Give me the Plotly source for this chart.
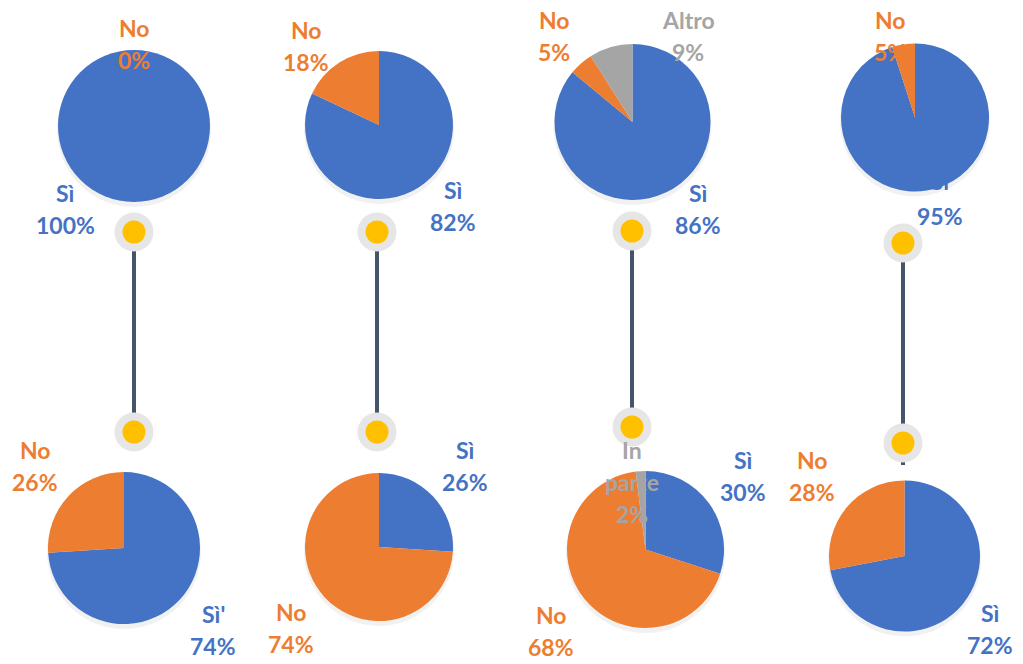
import plotly.graph_objects as go

W, H = 1023, 664

# ---- data ----
pie_labels = [
    ["Sì", "No"],
    ["Sì", "No"],
    ["Sì", "No", "Altro"],
    ["Sì", "No"],
    ["Sì'", "No"],
    ["Sì", "No"],
    ["Sì", "No", "In parte"],
    ["Sì", "No"],
]
pie_values = [
    [100, 0],
    [82, 18],
    [86, 5, 9],
    [95, 5],
    [74, 26],
    [26, 74],
    [30, 68, 2],
    [72, 28],
]
slice_colors = {"Sì": "#4472C4", "Sì'": "#4472C4", "No": "#ED7D31",
                "Altro": "#A5A5A5", "In parte": "#A5A5A5"}

# ---- layout (pixel positions) ----
pie_centers = [(134, 126), (379, 125), (632.5, 122), (915, 117.5),
               (124, 548), (379, 547), (645.5, 549.5), (904.5, 556)]
pie_radii = [76, 74, 78, 74, 76, 74, 78.5, 75.5]

# label anchor (name line centre) per slice, in px
label_pos = [
    [(65, 193), (134, 28)],
    [(453, 190), (306, 30)],
    [(698, 193), (554, 20), (688, 20)],
    [(940, 184), (890, 20)],
    [(213, 614), (35, 450)],
    [(465, 450), (291, 612)],
    [(743, 460), (551, 615), (632, 450)],
    [(990, 613), (812, 460)],
]
line_gap = 32

conn_x = [134, 377, 632, 903]
conn_top = [232, 232, 231, 243]
conn_bot = [432, 432, 427, 443]
conn_line_end = [432, 432, 427, 465]

fig = go.Figure()

# connectors
for x, t, b, e in zip(conn_x, conn_top, conn_bot, conn_line_end):
    fig.add_trace(go.Scatter(x=[x, x], y=[t, e], mode="lines",
                             line=dict(color="#44546A", width=4),
                             hoverinfo="skip", showlegend=False))
for x, t, b in zip(conn_x, conn_top, conn_bot):
    fig.add_trace(go.Scatter(x=[x, x], y=[t, b], mode="markers",
                             marker=dict(size=39, color="#E7E6E6", line=dict(width=0)),
                             hoverinfo="skip", showlegend=False))
    fig.add_trace(go.Scatter(x=[x, x], y=[t, b], mode="markers",
                             marker=dict(size=23, color="#FFC000", line=dict(width=0)),
                             hoverinfo="skip", showlegend=False))

# soft shadows
fig.add_trace(go.Scatter(x=[c[0] for c in pie_centers],
                         y=[c[1] + 4 for c in pie_centers], mode="markers",
                         marker=dict(size=[2 * r + 2 for r in pie_radii],
                                     color="rgba(0,0,0,0.08)", line=dict(width=0)),
                         hoverinfo="skip", showlegend=False))

FONT = "Lato"
FS = 23
annotations = []
for i, (labs, vals) in enumerate(zip(pie_labels, pie_values)):
    cx, cy = pie_centers[i]
    r = pie_radii[i]
    fig.add_trace(go.Pie(
        labels=labs, values=vals, sort=False, direction="clockwise",
        rotation=0, textinfo="none", hoverinfo="label+percent",
        marker=dict(colors=[slice_colors[l] for l in labs], line=dict(width=0)),
        domain=dict(x=[(cx - r) / W, (cx + r) / W],
                    y=[1 - (cy + r) / H, 1 - (cy - r) / H]),
        showlegend=False))
    for j, (lab, v) in enumerate(zip(labs, vals)):
        lx, ly = label_pos[i][j]
        col = slice_colors[lab]
        lines = lab.split(" ") if lab == "In parte" else [lab]
        lines = lines + [f"{v}%"]
        for k, txt in enumerate(lines):
            yk = ly + k * line_gap
            if i == 3 and j == 0 and k == 0:
                # partially hidden behind the pie
                fig.add_trace(go.Scatter(x=[lx], y=[yk], mode="text", text=[txt],
                                         textfont=dict(family=FONT, size=FS, color=col,
                                                       weight="bold"),
                                         hoverinfo="skip", showlegend=False))
                continue
            annotations.append(dict(x=lx, y=yk, xref="x", yref="y", text=f"<b>{txt}</b>",
                                    showarrow=False, font=dict(family=FONT, size=FS, color=col),
                                    xanchor="center", yanchor="middle", borderpad=0))

fig.update_layout(
    width=W, height=H, margin=dict(l=0, r=0, t=0, b=0),
    paper_bgcolor="white", plot_bgcolor="white",
    xaxis=dict(range=[0, W], visible=False, fixedrange=True),
    yaxis=dict(range=[H, 0], visible=False, fixedrange=True),
    annotations=annotations,
)

fig.write_html("out.html", config={"displayModeBar": False},
               post_script="document.body.style.margin='0';document.body.style.overflow='hidden';")
